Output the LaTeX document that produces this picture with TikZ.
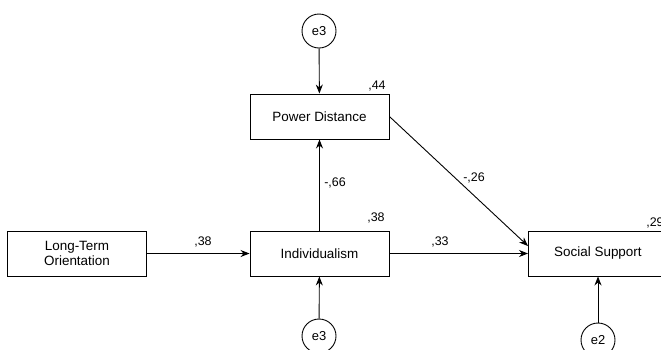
\documentclass[tikz,border=0pt]{standalone}
\usepackage{fontspec}
\setmainfont{Liberation Sans}
\usetikzlibrary{arrows.meta}
\begin{document}
\begin{tikzpicture}[x=1bp,y=-1bp,
  box/.style={draw,line width=0.9bp,minimum width=139bp,minimum height=45bp,inner sep=0pt,font=\fontsize{13.5}{15}\selectfont,align=center},
  err/.style={draw,circle,line width=0.9bp,minimum size=34bp,inner sep=0pt,font=\fontsize{13}{15}\selectfont},
  lbl/.style={font=\fontsize{12.5}{14}\selectfont,inner sep=0pt},
  arr/.style={line width=0.9bp,-{Stealth[length=9bp,width=7bp]}}]
\useasboundingbox (0,0) rectangle (661,349);
\node[box] (lto) at (77,253.5) {Long-Term\\Orientation};
\node[box] (ind) at (319.5,253.5) {Individualism};
\node[box] (pd) at (319.5,116.5) {Power Distance};
\node[box,anchor=west] (ss) at (528,253.5) {Social Support};
\node[err] (e3a) at (319,31) {e3};
\node[err] (e3b) at (319,336) {e3};
\node[err] (e2) at (598,340) {e2};
\coordinate (ssin) at (528,246);
\draw[arr] (e3a) -- (pd);
\draw[arr] (e3b) -- (ind);
\draw[arr] (e2.north) -- (e2.north |- ss.south);
\draw[arr] (lto) -- (ind);
\draw[arr] (ind) -- (pd);
\draw[arr] (ind) -- (ss);
\draw[arr] (pd.east) -- (ssin);
\node[lbl] (l1) at (203,242) {,38};
\node[lbl] (l2) at (440,242) {,33};
\node[lbl] (l3) at (335,183) {-,66};
\node[lbl] (l4) at (474,178) {-,26};
\node[lbl] (l5) at (377,86) {,44};
\node[lbl] (l6) at (376,218) {,38};
\node[lbl] (l7) at (655,223) {,29};
\end{tikzpicture}
\end{document}
